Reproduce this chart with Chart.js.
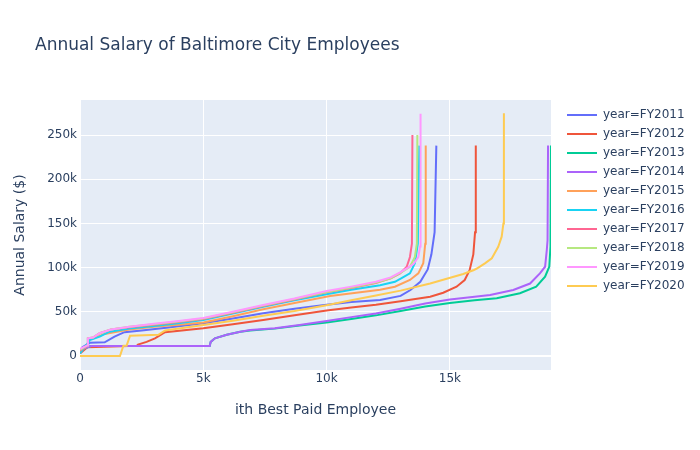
<!DOCTYPE html>
<html>
<head>
<meta charset="utf-8">
<script src="https://cdn.jsdelivr.net/npm/chart.js@4/dist/chart.umd.min.js"></script>
<style>
html, body { margin: 0; padding: 0; background: #ffffff; }
#wrap { width: 700px; height: 450px; }
</style>
</head>
<body>
<div id="wrap"><canvas id="c" width="700" height="450"></canvas></div>
<script>
// ---- data (x = rank of employee, y = annual salary in $) ----
const seriesNames = ['year=FY2011', 'year=FY2012', 'year=FY2013', 'year=FY2014', 'year=FY2015',
                     'year=FY2016', 'year=FY2017', 'year=FY2018', 'year=FY2019', 'year=FY2020'];

const fy2011X = [0, 100, 400, 1000, 1400, 1800, 2500, 3500, 5000, 6200, 7430, 8700, 10000, 11000, 12170, 13000, 13400, 13800, 14100, 14250, 14380, 14450];
const fy2011Y = [5000, 10000, 15000, 15500, 22000, 27000, 29000, 32000, 37000, 42500, 48300, 53500, 58000, 61000, 63300, 68000, 74700, 84000, 98000, 115000, 140000, 238000];

const fy2012X = [0, 300, 2300, 2350, 2700, 3040, 3450, 5000, 6200, 7430, 8700, 10000, 11000, 12000, 13000, 14200, 14730, 15270, 15600, 15800, 15950, 16020, 16050];
const fy2012Y = [3000, 10000, 11500, 13000, 16000, 20000, 27000, 31300, 36000, 40700, 46000, 51500, 55000, 58000, 62000, 67000, 71600, 78400, 86000, 97000, 115000, 140000, 238000];

const fy2013X = [0, 100, 450, 5260, 5300, 5470, 5950, 6500, 6900, 7900, 8900, 10000, 11000, 12000, 13000, 14000, 15000, 16000, 16900, 17840, 18500, 18860, 19030, 19080, 19100];
const fy2013Y = [5000, 8000, 11300, 11300, 16000, 20000, 24000, 27500, 29000, 31000, 34500, 38000, 42000, 46000, 51000, 56000, 60000, 63000, 65300, 71000, 78400, 89700, 101000, 124000, 238000];

const fy2014X = [0, 100, 450, 5260, 5300, 5470, 5950, 6500, 6900, 7900, 8900, 10000, 11000, 12000, 13000, 14000, 15000, 16000, 16630, 17570, 18250, 18650, 18860, 18930, 18960, 18980];
const fy2014Y = [5000, 8000, 11300, 11300, 16000, 20000, 24000, 27500, 29400, 31300, 35000, 39500, 44000, 48000, 53500, 59500, 64000, 67000, 69000, 74700, 82000, 93500, 101000, 120000, 131000, 238000];

const fy2015X = [0, 300, 350, 1000, 2000, 3000, 4000, 5000, 6200, 7430, 8700, 10140, 11200, 12170, 12770, 13380, 13720, 13920, 14000, 14020];
const fy2015Y = [5000, 12000, 18000, 25000, 30000, 33000, 35500, 38000, 45000, 52800, 60000, 68000, 71500, 75000, 78400, 86000, 93500, 105000, 127000, 238000];

const fy2016X = [0, 250, 400, 800, 1200, 2000, 3000, 4000, 5000, 6200, 7430, 8700, 10000, 11000, 12170, 12770, 13040, 13380, 13580, 13700, 13760];
const fy2016Y = [3000, 12000, 18000, 22000, 27500, 31000, 34000, 37000, 40700, 48000, 55800, 63000, 70000, 75000, 80000, 84000, 88000, 93500, 105000, 127000, 238000];

const fy2017X = [0, 300, 320, 530, 800, 1260, 2000, 3000, 4000, 5000, 6200, 7430, 8700, 10000, 11000, 12000, 12600, 12980, 13250, 13380, 13460, 13480];
const fy2017Y = [6000, 12000, 20000, 21000, 26000, 30000, 32500, 35500, 38500, 42000, 49000, 56500, 64000, 72000, 77000, 82500, 88000, 93500, 101000, 112000, 127000, 250000];

const fy2018X = [0, 300, 320, 530, 800, 1260, 2000, 3000, 4000, 5000, 6200, 7430, 8700, 10000, 11000, 12000, 12600, 13040, 13380, 13580, 13660, 13680];
const fy2018Y = [7000, 12000, 20000, 21000, 26000, 30000, 33000, 36000, 39000, 42500, 49500, 57000, 64500, 72500, 77500, 83000, 88000, 95000, 101000, 112000, 127000, 250000];

const fy2019X = [0, 300, 320, 530, 800, 1260, 2000, 3000, 4000, 5000, 6200, 7430, 8700, 10000, 11000, 12000, 12600, 13000, 13300, 13520, 13720, 13790, 13810];
const fy2019Y = [8000, 12000, 20000, 21000, 26000, 30000, 33000, 36500, 39500, 43000, 50000, 57700, 65000, 73500, 78500, 84000, 89000, 95000, 100000, 104000, 112000, 124000, 274000];

const fy2020X = [0, 1620, 1760, 1890, 2030, 3180, 3450, 5000, 6200, 7430, 8700, 10000, 11000, 12000, 13000, 14200, 15540, 15950, 16090, 16420, 16700, 16960, 17100, 17170, 17190];
const fy2020Y = [0, 0, 11700, 11700, 23000, 24000, 29000, 35000, 40000, 45600, 51000, 57500, 63000, 68500, 74000, 82000, 92800, 97000, 99000, 104800, 110500, 123600, 135000, 150000, 274600];

const xTickValues = [0, 5000, 10000, 15000];
const xTickLabels = ['0', '5k', '10k', '15k'];
const yTickValues = [0, 50000, 100000, 150000, 200000, 250000];
const yTickLabels = ['0', '50k', '100k', '150k', '200k', '250k'];

// ---- styles ----
const colors = ['#636efa', '#EF553B', '#00cc96', '#ab63fa', '#FFA15A', '#19d3f3', '#FF6692', '#B6E880', '#FF97FF', '#FECB52'];
const seriesX = [fy2011X, fy2012X, fy2013X, fy2014X, fy2015X, fy2016X, fy2017X, fy2018X, fy2019X, fy2020X];
const seriesY = [fy2011Y, fy2012Y, fy2013Y, fy2014Y, fy2015Y, fy2016Y, fy2017Y, fy2018Y, fy2019Y, fy2020Y];

const textColor = '#2a3f5f';
Chart.defaults.font.family = "'DejaVu Sans', Verdana, sans-serif";
Chart.defaults.color = textColor;

const datasets = seriesNames.map((name, i) => ({
  label: name,
  data: seriesX[i].map((x, j) => ({ x: x, y: seriesY[i][j] })),
  borderColor: colors[i],
  backgroundColor: colors[i],
  borderWidth: 2,
  pointRadius: 0,
  pointHoverRadius: 0,
  tension: 0,
  fill: false,
  order: seriesNames.length - i
}));

const plotBg = {
  id: 'plotBg',
  afterLayout(chart) {
    if (chart.titleBlock) { chart.titleBlock.left = 35; }
    const lg = chart.legend;
    if (lg) {
      const w = lg.right - lg.left;
      lg.left = chart.chartArea.right + 9;
      lg.right = lg.left + w;
      lg.top += 2;
      lg.bottom += 2;
    }
  },
  beforeDraw(chart) {
    const a = chart.chartArea, ctx = chart.ctx;
    ctx.save();
    ctx.fillStyle = '#E5ECF6';
    ctx.fillRect(a.left, a.top, a.right - a.left, a.bottom - a.top);
    ctx.restore();
  }
};

const gridWidth = (c) => (c.tick && c.tick.value === 0) ? 2 : 1;

new Chart(document.getElementById('c'), {
  type: 'line',
  data: { datasets: datasets },
  plugins: [plotBg],
  options: {
    responsive: false,
    animation: false,
    devicePixelRatio: 1,
    layout: { padding: { left: 12, right: 14.4, top: 0, bottom: 0 } },
    plugins: {
      title: {
        display: true,
        text: 'Annual Salary of Baltimore City Employees',
        align: 'start',
        color: textColor,
        font: { size: 17, weight: 'normal' },
        padding: { top: 35, bottom: 44.6 }
      },
      legend: {
        position: 'right',
        align: 'start',
        fullSize: false,
        labels: {
          usePointStyle: true,
          pointStyle: 'line',
          pointStyleWidth: 30,
          color: textColor,
          font: { size: 12 },
          padding: 7,
          sort: (a, b) => a.datasetIndex - b.datasetIndex
        }
      },
      tooltip: { enabled: false }
    },
    scales: {
      x: {
        type: 'linear',
        min: 0,
        max: 19100,
        afterBuildTicks: (s) => { s.ticks = xTickValues.map(v => ({ value: v })); },
        afterFit: (s) => { s.height = 80; },
        ticks: {
          autoSkip: false,
          maxRotation: 0,
          padding: 2,
          color: textColor,
          font: { size: 12 },
          callback: (v) => xTickLabels[xTickValues.indexOf(v)]
        },
        grid: { color: '#ffffff', lineWidth: gridWidth, drawTicks: false },
        border: { display: false },
        title: {
          display: true,
          text: 'ith Best Paid Employee',
          color: textColor,
          font: { size: 14 },
          padding: { top: 0, bottom: 31 }
        }
      },
      y: {
        type: 'linear',
        min: -15800,
        max: 289600,
        afterBuildTicks: (s) => { s.ticks = yTickValues.map(v => ({ value: v })); },
        afterFit: (s) => { s.width = 68; },
        ticks: {
          autoSkip: false,
          padding: 3,
          color: textColor,
          font: { size: 12 },
          callback: (v) => yTickLabels[yTickValues.indexOf(v)]
        },
        grid: { color: '#ffffff', lineWidth: gridWidth, drawTicks: false },
        border: { display: false },
        title: {
          display: true,
          text: 'Annual Salary ($)',
          color: textColor,
          font: { size: 14 },
          padding: { top: 0, bottom: 0 }
        }
      }
    }
  }
});
</script>
</body>
</html>
